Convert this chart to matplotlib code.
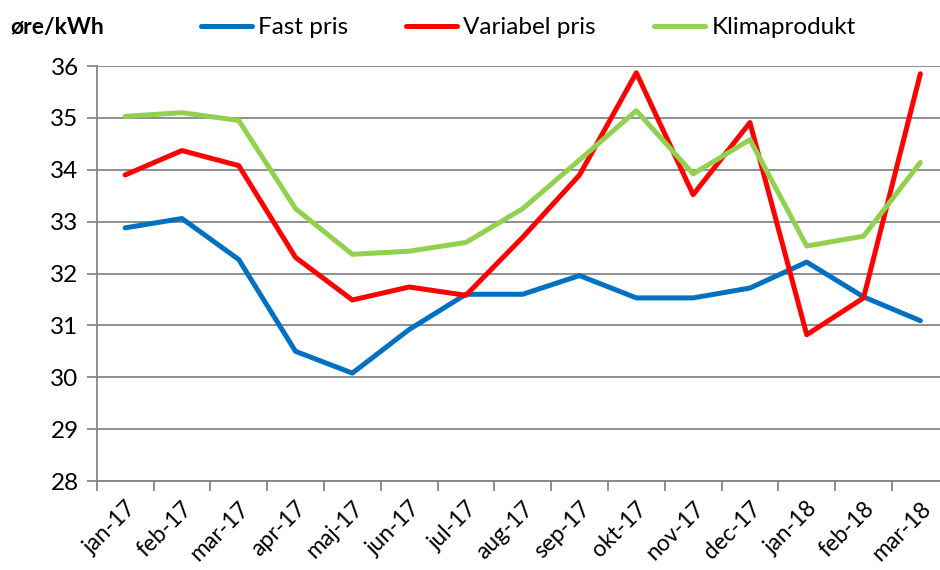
import matplotlib
matplotlib.use("Agg")
import matplotlib.pyplot as plt

plt.rcParams['font.family'] = ['Lato', 'DejaVu Sans']

months = ['jan-17', 'feb-17', 'mar-17', 'apr-17', 'maj-17', 'jun-17', 'jul-17',
          'aug-17', 'sep-17', 'okt-17', 'nov-17', 'dec-17', 'jan-18', 'feb-18', 'mar-18']
fast = [32.88, 33.06, 32.27, 30.50, 30.08, 30.92, 31.60,
        31.60, 31.96, 31.53, 31.53, 31.72, 32.22, 31.55, 31.09]
variabel = [33.90, 34.37, 34.08, 32.31, 31.49, 31.74, 31.58,
            32.70, 33.90, 35.87, 33.52, 34.91, 30.82, 31.53, 35.85]
klima = [35.03, 35.10, 34.95, 33.25, 32.37, 32.43, 32.60,
         33.25, 34.19, 35.14, 33.92, 34.58, 32.53, 32.72, 34.14]

fig = plt.figure(figsize=(9.4, 5.7), dpi=100)
ax = fig.add_axes([0.1029, 0.1561, 0.9064, 0.7281])

x = range(len(months))
ax.plot(x, fast, color='#0070C0', lw=3.6, label='Fast pris', solid_capstyle='round')
ax.plot(x, variabel, color='#FF0000', lw=3.6, label='Variabel pris', solid_capstyle='round')
ax.plot(x, klima, color='#92D050', lw=3.6, label='Klimaprodukt', solid_capstyle='round')

ax.set_xlim(-0.5, len(months) - 0.5)
ax.set_ylim(28, 36)
ax.set_yticks(range(28, 37))
ax.grid(axis='y', color='#868686', lw=1.3)
ax.set_axisbelow(True)

# category boundaries carry the tick marks, labels sit at the centres
ax.set_xticks([i - 0.5 for i in range(len(months) + 1)])
ax.set_xticklabels([])
ax.set_xticks(list(x), minor=True)
ax.set_xticklabels(months, minor=True, rotation=45, ha='right', rotation_mode='anchor')
ax.tick_params(axis='x', which='major', length=7, width=1.3, color='#868686')
ax.tick_params(axis='x', which='minor', length=0, pad=12, labelsize=16.5)
ax.tick_params(axis='y', length=7, width=1.3, color='#868686', labelsize=17.5, pad=6)

for s in ['top', 'right']:
    ax.spines[s].set_visible(False)
for s in ['left', 'bottom']:
    ax.spines[s].set_color('#868686')
    ax.spines[s].set_linewidth(1.3)

fig.text(0.011, 0.951, 'øre/kWh', fontsize=16.5, fontweight='bold', va='center')
fig.legend(loc='center', bbox_to_anchor=(0.562, 0.951), ncol=3, frameon=False,
           fontsize=17.5, handlelength=2.1, handletextpad=0.25, columnspacing=2.4)

fig.savefig('out.png', dpi=100)
